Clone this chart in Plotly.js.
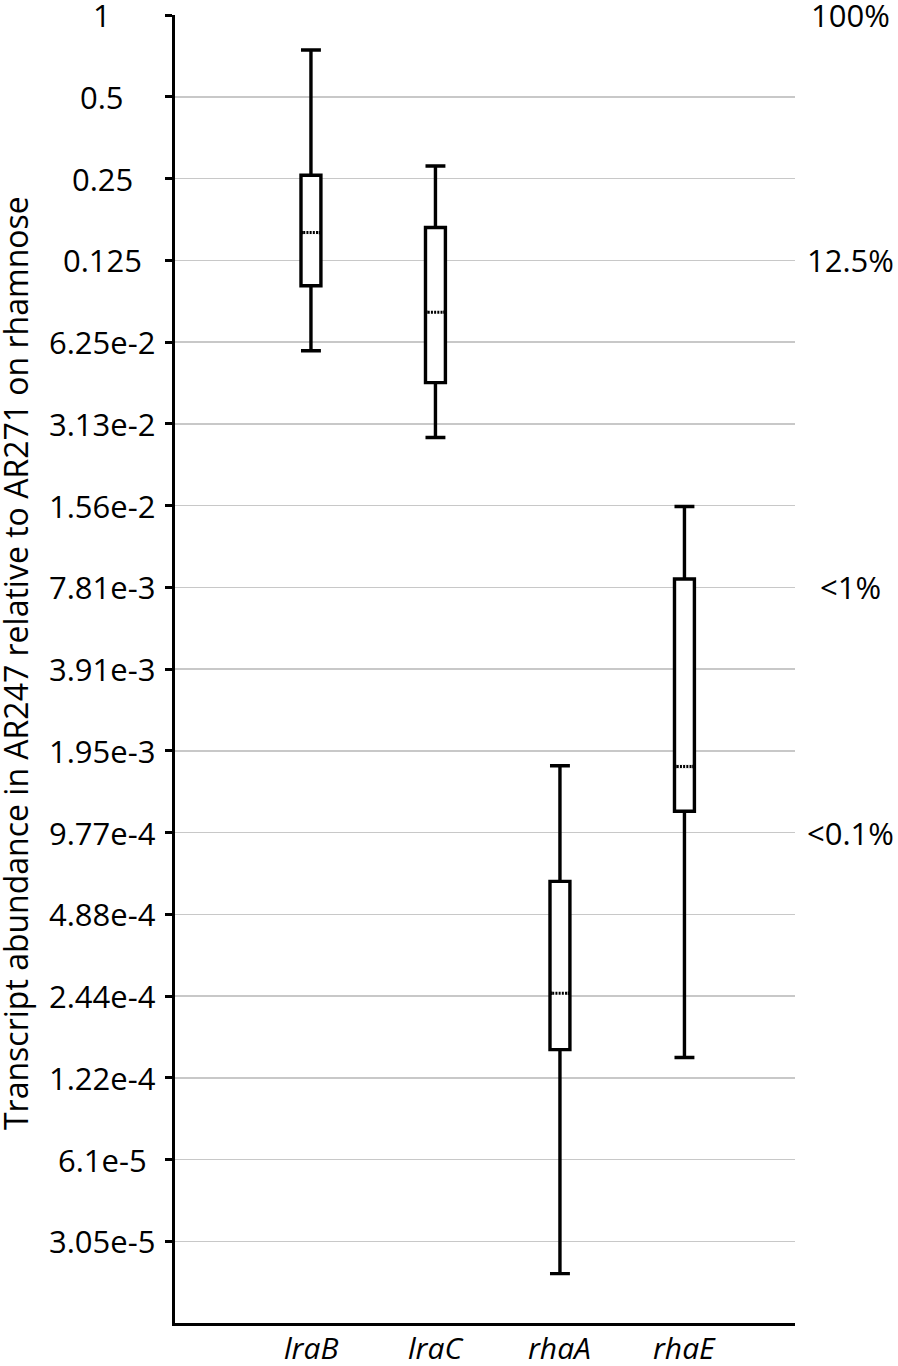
<!DOCTYPE html>
<html>
<head>
<meta charset="utf-8">
<script src="https://cdn.plot.ly/plotly-3.0.1.min.js"></script>
<style>html,body{margin:0;padding:0;background:#fff;}#chart{width:898px;height:1366px;}</style>
</head>
<body>
<div id="chart"></div>
<script>
// Categories (genes)
var genes = ["lraB", "lraC", "rhaA", "rhaE"];
// Box statistics (relative transcript abundance)
var upperWhisker = [0.743, 0.278, 1.72e-3, 0.0155];
var q3Values     = [0.257, 0.165, 6.45e-4, 8.38e-3];
var medians      = [0.158, 0.0805, 2.50e-4, 1.71e-3];
var q1Values     = [0.1007, 0.0443, 1.55e-4, 1.17e-3];
var lowerWhisker = [0.0580, 0.0278, 2.32e-5, 1.45e-4];

// Y axis ticks (powers of two) and labels
var tickValues = [1, 0.5, 0.25, 0.125, 0.0625, 0.03125, 0.015625, 0.0078125, 0.00390625,
  0.001953125, 0.0009765625, 0.00048828125, 0.000244140625, 0.0001220703125,
  0.00006103515625, 0.000030517578125];
var tickLabels = ["1", "0.5", "0.25", "0.125", "6.25e-2", "3.13e-2", "1.56e-2", "7.81e-3",
  "3.91e-3", "1.95e-3", "9.77e-4", "4.88e-4", "2.44e-4", "1.22e-4", "6.1e-5", "3.05e-5"];

// Right-hand percentage markers
var pctValues = [1, 0.125, 0.0078125, 0.0009765625];
var pctLabels = ["100%", "12.5%", "<1%", "<0.1%"];

var FONT = "Open Sans, Noto Sans, sans-serif";
var xIdx = genes.map(function (g, i) { return i; });

var traces = [];
traces.push({
  type: "box",
  x: xIdx,
  q1: q1Values,
  median: medians,
  q3: q3Values,
  lowerfence: lowerWhisker,
  upperfence: upperWhisker,
  width: 0.16,
  whiskerwidth: 1,
  boxpoints: false,
  line: {color: "#000", width: 3.4},
  fillcolor: "#fff",
  hoverinfo: "skip"
});

// Dotted median lines
var halfW = 0.062;
medians.forEach(function (m, i) {
  traces.push({
    type: "scatter", mode: "lines",
    x: [i - halfW, i + halfW], y: [m, m],
    line: {color: "#fff", width: 4.5},
    hoverinfo: "skip"
  });
  traces.push({
    type: "scatter", mode: "lines",
    x: [i - halfW, i + halfW], y: [m, m],
    line: {color: "#000", width: 3, dash: "2px,1.2px"},
    hoverinfo: "skip"
  });
});

var L = 175, R = 795, T = 15, B = 1323;
var plotW = R - L;

var annotations = [];
tickValues.forEach(function (v, i) {
  annotations.push({
    xref: "paper", yref: "y",
    x: (102 - L) / plotW, y: Math.log10(v),
    text: tickLabels[i], showarrow: false,
    xanchor: "center", yanchor: "middle",
    font: {family: FONT, size: 31, color: "#000"}
  });
});
pctValues.forEach(function (v, i) {
  annotations.push({
    xref: "paper", yref: "y",
    x: (850 - L) / plotW, y: Math.log10(v),
    text: pctLabels[i].replace("<", "&lt;"), showarrow: false,
    xanchor: "center", yanchor: "middle",
    font: {family: FONT, size: 31, color: "#000"}
  });
});
genes.forEach(function (g, i) {
  annotations.push({
    xref: "x", yref: "paper",
    x: i, y: 0, yshift: -24,
    text: "<i>" + g + "</i>", showarrow: false,
    xanchor: "center", yanchor: "middle",
    font: {family: FONT, size: 30, color: "#000"}
  });
});
annotations.push({
  xref: "paper", yref: "paper",
  x: (15 - L) / plotW, y: 0.5, yshift: 6,
  text: "Transcript abundance in AR247 relative to AR271 on rhamnose",
  textangle: -90, showarrow: false,
  xanchor: "center", yanchor: "middle",
  font: {family: FONT, size: 32, color: "#000"}
});

var layout = {
  width: 898, height: 1366,
  margin: {l: L, r: 898 - R, t: T, b: 1366 - B, pad: 0},
  paper_bgcolor: "#fff", plot_bgcolor: "#fff",
  showlegend: false,
  hovermode: false,
  xaxis: {
    range: [-1.092, 3.888],
    tickvals: xIdx,
    showticklabels: false,
    ticks: "",
    showgrid: false, zeroline: false,
    showline: true, linecolor: "#000", linewidth: 3
  },
  yaxis: {
    type: "log",
    range: [Math.log10(Math.pow(2, -16)), 0],
    tickvals: tickValues,
    showticklabels: false,
    ticks: "outside", ticklen: 7, tickwidth: 3, tickcolor: "#000",
    showgrid: true, gridcolor: "#c8c8c8", gridwidth: 1.5,
    zeroline: false,
    showline: true, linecolor: "#000", linewidth: 3
  },
  annotations: annotations
};

Plotly.newPlot("chart", traces, layout, {staticPlot: true, displayModeBar: false});
</script>
</body>
</html>
